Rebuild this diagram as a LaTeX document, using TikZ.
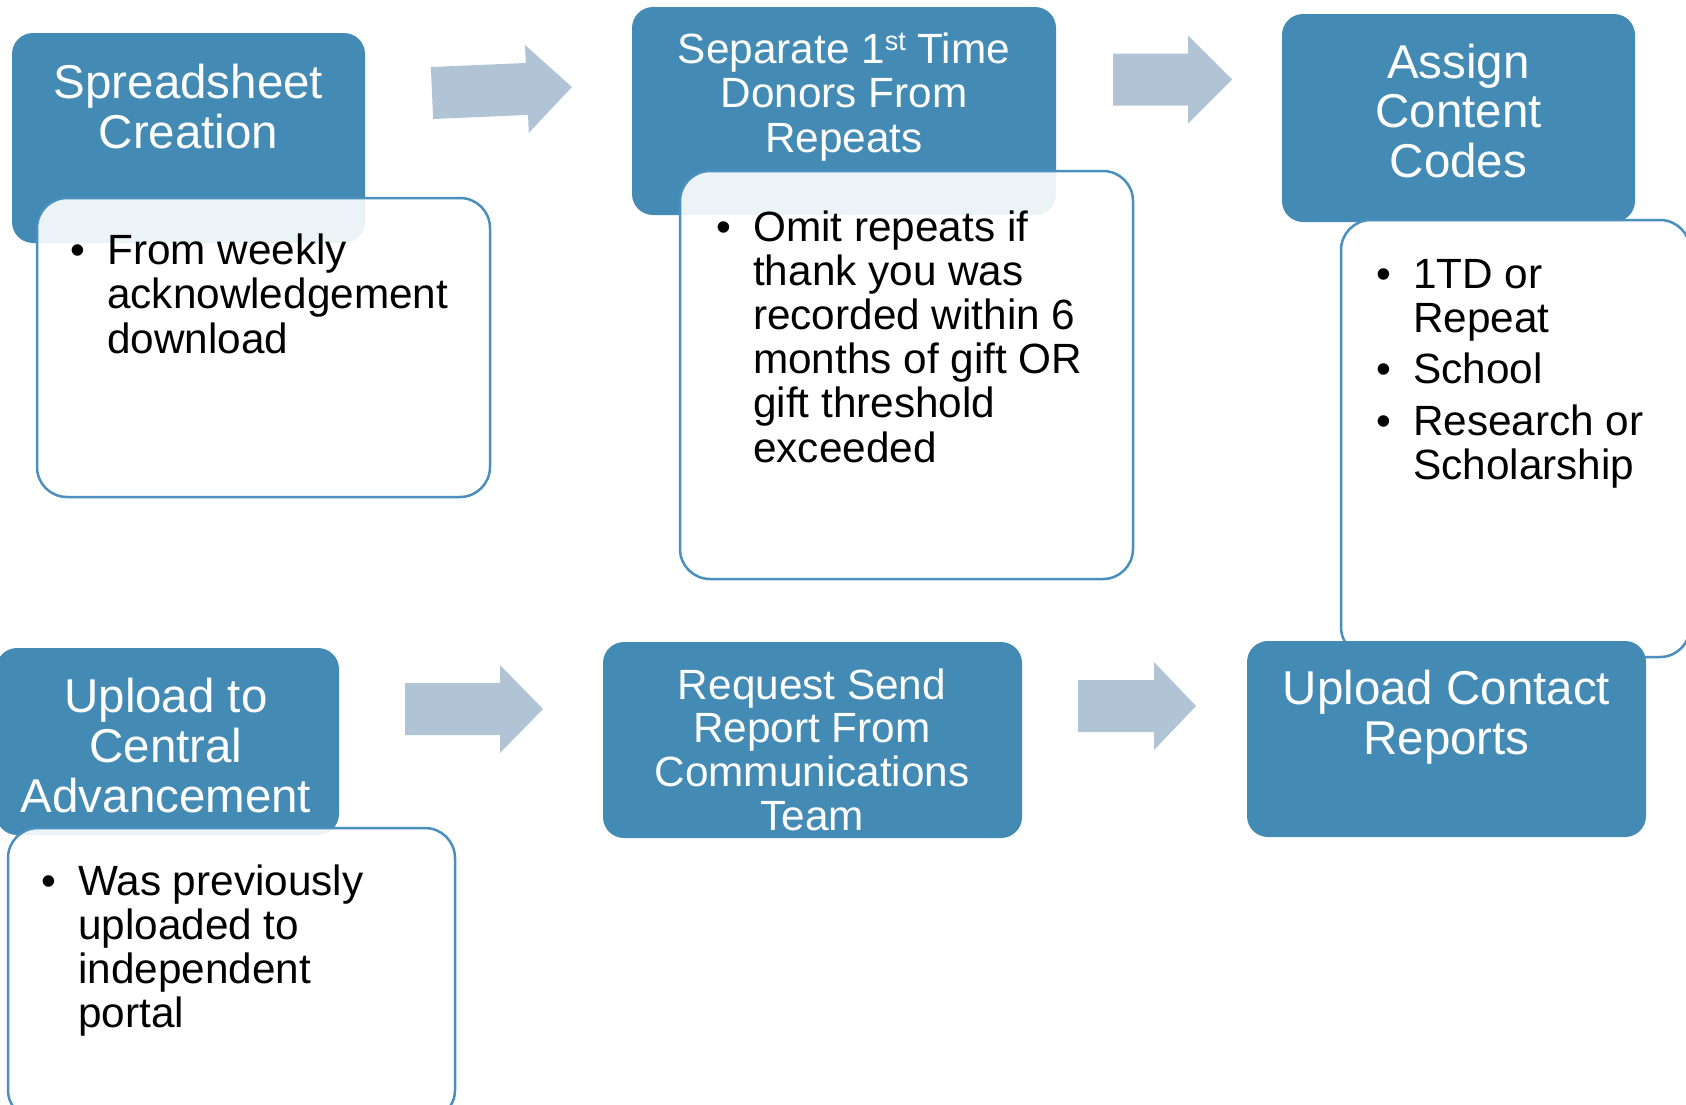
\documentclass[tikz,border=0pt]{standalone}
\usepackage{fontspec}
\setmainfont{Liberation Sans}

\definecolor{headblue}{RGB}{67,139,180}
\definecolor{edgeblue}{RGB}{74,143,189}
\definecolor{arrowgrey}{RGB}{177,196,214}

% one bulleted entry with a hanging indent
\newcommand\listentry[1]{\par\hangindent=37pt\hangafter=1\noindent\makebox[37pt][l]{•}#1}

\tikzset{
  headbox/.style={rectangle, rounded corners=21pt, fill=headblue, draw=none,
    inner sep=0pt, outer sep=0pt, anchor=north west},
  notebox/.style={rectangle, rounded corners=30pt, fill=white, fill opacity=0.9,
    draw=edgeblue, line width=2.5pt, inner sep=0pt, outer sep=0pt, anchor=north west},
  headtext/.style={anchor=base, inner sep=0pt, text=white},
  notetext/.style={anchor=base west, inner sep=0pt, text=black},
  pics/flowarrow/.style 2 args={code={
    \fill[arrowgrey] (0,-26) -- (#1,-26) -- (#1,-44) -- (#2,0) -- (#1,44)
      -- (#1,26) -- (0,26) -- cycle;}}
}

\begin{document}
\begin{tikzpicture}[x=1pt,y=-1pt]
\path[use as bounding box] (0,0) rectangle (1686,1104);
\clip (0,0) rectangle (1686,1104);

% step 1
\node[headbox, minimum width=353pt, minimum height=210pt] (h1) at (12,33) {};
\node[headtext] (t1) at (188.5,98)
  {\parbox[t]{353pt}{\centering\fontsize{47.5}{50}\selectfont Spreadsheet\\Creation}};
\node[notebox, minimum width=453pt, minimum height=299pt] (b1) at (37,198) {};
\node[notetext] (l1) at (70,264)
  {\parbox[t]{420pt}{\fontsize{42.3}{44.5}\selectfont
   \listentry{From weekly\newline acknowledgement\newline download}}};
\pic[rotate=2.45] (a1) at (432,93) {flowarrow={95}{140}};

% step 2
\node[headbox, minimum width=424pt, minimum height=208pt] (h2) at (632,7) {};
\node[headtext] (t2) at (844,63)
  {\parbox[t]{424pt}{\centering\fontsize{42.3}{44.5}\selectfont
   Separate 1\raisebox{13pt}{\fontsize{27}{27}\selectfont st} Time\\Donors From\\Repeats}};
\node[notebox, minimum width=453pt, minimum height=408pt] (b2) at (680,171) {};
\node[notetext] (l2) at (716,241)
  {\parbox[t]{420pt}{\fontsize{42.3}{44.2}\selectfont
   \listentry{Omit repeats if\newline thank you was\newline recorded within 6\newline
   months of gift OR\newline gift threshold\newline exceeded}}};
\pic (a2) at (1113,79.5) {flowarrow={75}{119}};

% step 3
\node[headbox, minimum width=353pt, minimum height=208pt] (h3) at (1282,14) {};
\node[headtext] (t3) at (1458.5,78)
  {\parbox[t]{353pt}{\centering\fontsize{47.5}{49.5}\selectfont Assign\\Content\\Codes}};
\node[notebox, minimum width=349pt, minimum height=437pt] (b3) at (1341,220) {};
\node[notetext] (l3) at (1376,288)
  {\parbox[t]{320pt}{\fontsize{42.3}{44}\selectfont\setlength\parskip{7.5pt}%
   \listentry{1TD or\newline Repeat}\listentry{School}\listentry{Research or\newline Scholarship}}};

% step 4
\node[headbox, minimum width=343pt, minimum height=187pt] (h4) at (-4,648) {};
\node[headtext] (t4) at (166,712)
  {\parbox[t]{343pt}{\centering\fontsize{47.5}{50}\selectfont Upload to\\Central\\Advancement}};
\node[notebox, minimum width=447pt, minimum height=292pt] (b4) at (8,828) {};
\node[notetext] (l4) at (41,895)
  {\parbox[t]{400pt}{\fontsize{42.3}{44}\selectfont
   \listentry{Was previously\newline uploaded to\newline independent\newline portal}}};
\pic (a4) at (405,709) {flowarrow={95}{138}};

% step 5
\node[headbox, minimum width=419pt, minimum height=196pt] (h5) at (603,642) {};
\node[headtext] (t5) at (812,699)
  {\parbox[t]{419pt}{\centering\fontsize{42.3}{43.8}\selectfont
   Request Send\\Report From\\Communications\\Team}};
\pic (a5) at (1078,706) {flowarrow={76}{118}};

% step 6
\node[headbox, minimum width=399pt, minimum height=196pt] (h6) at (1247,641) {};
\node[headtext] (t6) at (1446.5,704)
  {\parbox[t]{399pt}{\centering\fontsize{47.5}{50}\selectfont Upload Contact\\Reports}};
\end{tikzpicture}
\end{document}
